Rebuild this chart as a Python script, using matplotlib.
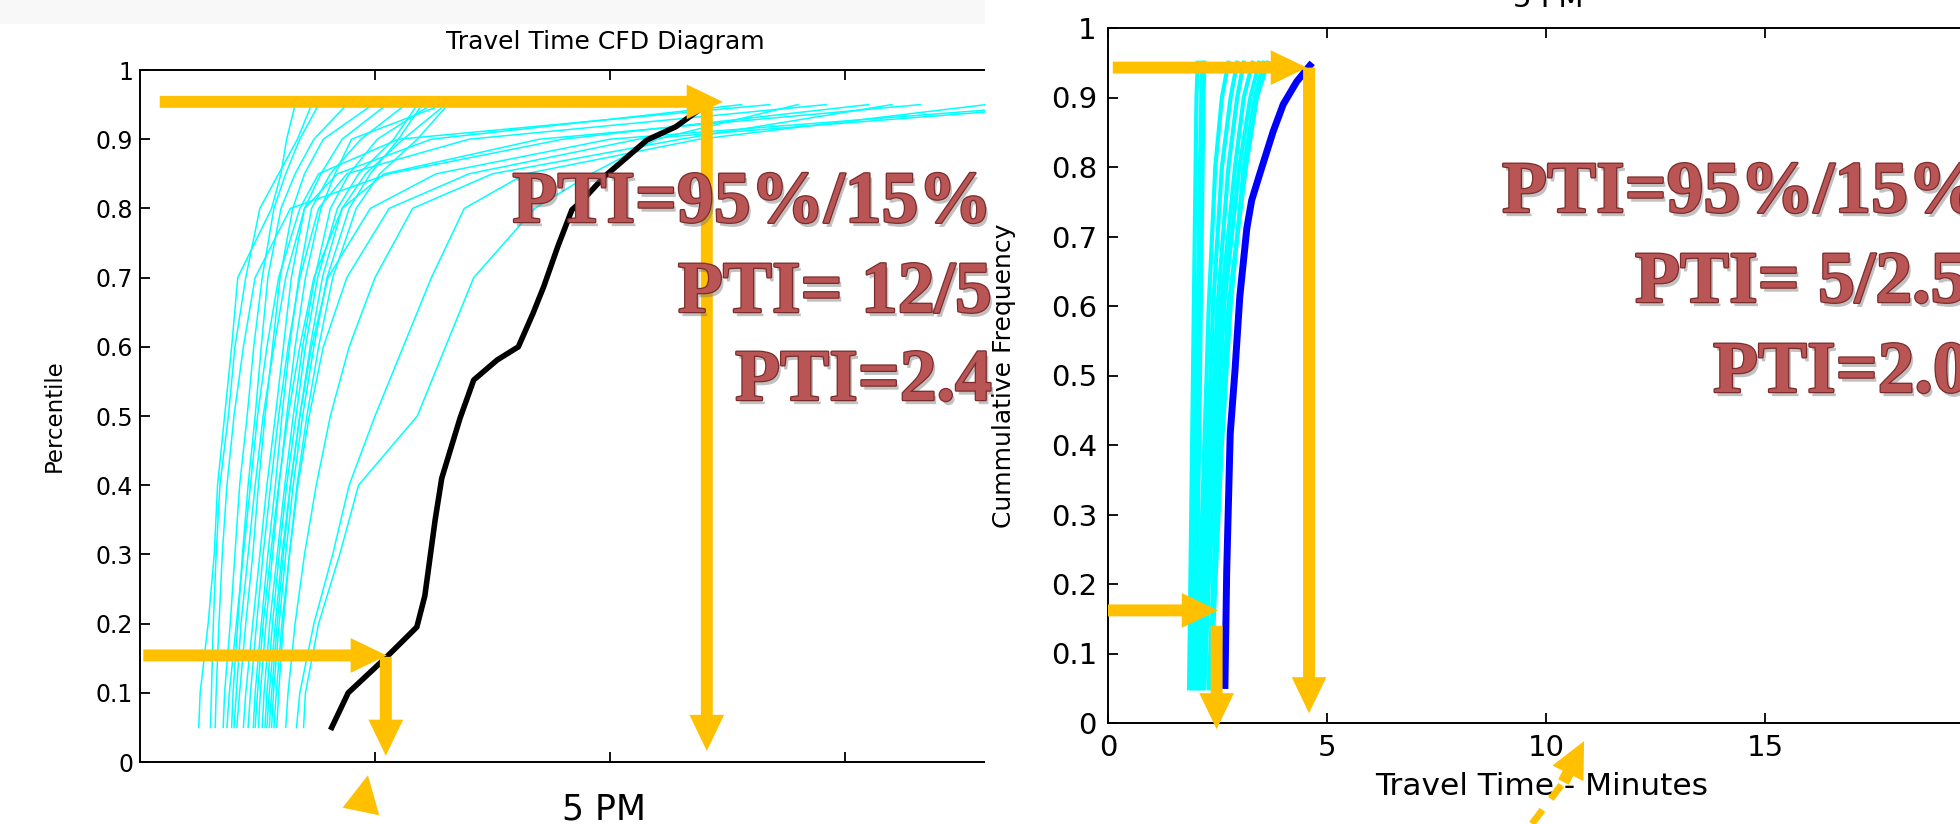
import numpy as np
import matplotlib
matplotlib.use("Agg")
import matplotlib.pyplot as plt
import matplotlib.patheffects as pe
from matplotlib.patches import Rectangle, Polygon

# ---- data ----
# left panel: cyan CDFs, x (minutes) at these percentiles
pct_left = [0.05, 0.1, 0.2, 0.3, 0.4, 0.5, 0.6, 0.7, 0.8, 0.85, 0.9, 0.95]
cyan_left = [
    [1.25, 1.28, 1.45, 1.58, 1.65, 1.80, 1.95, 2.08, 2.80, 3.00, 3.12, 3.30],
    [1.50, 1.52, 1.56, 1.62, 1.70, 1.88, 2.02, 2.25, 2.55, 2.95, 3.35, 3.65],
    [1.77, 1.80, 1.92, 2.02, 2.12, 2.28, 2.42, 2.60, 2.85, 3.10, 3.40, 3.80],
    [1.95, 1.98, 2.08, 2.18, 2.30, 2.45, 2.58, 2.72, 3.00, 3.30, 3.70, 4.40],
    [2.06, 2.12, 2.25, 2.40, 2.52, 2.66, 2.82, 2.98, 3.25, 3.50, 3.90, 4.95],
    [2.20, 2.25, 2.40, 2.55, 2.70, 2.88, 3.05, 3.22, 3.50, 3.85, 4.30, 5.25],
    [2.41, 2.45, 2.58, 2.72, 2.88, 3.02, 3.18, 3.38, 3.65, 4.05, 4.70, 5.65],
    [2.52, 2.56, 2.68, 2.82, 2.96, 3.12, 3.30, 3.52, 3.85, 4.15, 4.50, 6.45],
    [2.60, 2.64, 2.76, 2.92, 3.08, 3.26, 3.46, 3.72, 4.05, 4.45, 5.05, 6.20],
    [2.66, 2.70, 2.82, 2.96, 3.12, 3.32, 3.52, 3.78, 4.20, 4.65, 5.40, 5.90],
    [2.75, 2.80, 2.92, 3.05, 3.20, 3.40, 3.62, 3.88, 4.30, 4.80, 5.60, 6.50],
    [2.80, 2.84, 2.96, 3.10, 3.26, 3.46, 3.70, 3.98, 4.45, 4.90, 5.50, 6.00],
    [2.91, 2.95, 3.05, 3.18, 3.34, 3.55, 3.80, 4.10, 4.60, 5.10, 5.90, 6.55],
    [1.85, 1.90, 2.05, 2.20, 2.35, 2.50, 2.70, 2.95, 3.40, 3.80, 5.50, 13.4],
    [2.30, 2.35, 2.48, 2.62, 2.78, 2.95, 3.15, 3.40, 3.80, 4.40, 7.00, 14.6],
    [2.45, 2.50, 2.62, 2.78, 2.95, 3.15, 3.40, 3.70, 4.30, 5.20, 8.50, 16.6],
    [2.70, 2.75, 2.88, 3.02, 3.20, 3.40, 3.65, 4.00, 4.90, 6.30, 10.0, 19.5],
    [2.85, 2.90, 3.02, 3.18, 3.36, 3.60, 3.90, 4.40, 5.30, 7.00, 10.6, 20.0],
    [3.10, 3.15, 3.30, 3.50, 3.75, 4.05, 4.45, 5.00, 5.80, 7.50, 11.5, 16.0],
    [3.33, 3.40, 3.70, 4.10, 4.45, 5.00, 5.60, 6.20, 6.90, 8.20, 11.9, 18.0],
    [3.48, 3.52, 3.80, 4.25, 4.65, 5.90, 6.50, 7.10, 8.40, 9.60, 11.0, 14.0],
    [2.00, 2.05, 2.15, 2.30, 2.45, 2.62, 2.85, 3.10, 3.50, 4.20, 6.20, 12.8],
    [1.60, 1.62, 1.68, 1.75, 1.85, 2.00, 2.20, 2.45, 3.20, 5.30, 9.00, 15.5],
]
black_x = [4.08, 4.43, 5.25, 5.89, 6.06, 6.28, 6.42, 6.81, 7.10, 7.60,
           8.05, 8.36, 8.59, 8.89, 9.19, 9.42, 9.88, 10.79, 11.40, 11.95]
black_y = [0.05, 0.10, 0.152, 0.195, 0.24, 0.35, 0.41, 0.497, 0.552, 0.581,
           0.60, 0.648, 0.687, 0.745, 0.798, 0.812, 0.846, 0.899, 0.918, 0.945]

# right panel
pct_right = [0.05, 0.2, 0.4, 0.6, 0.8, 0.9, 0.95]
cyan_right = [
    [1.85, 1.88, 1.92, 1.96, 2.00, 2.02, 2.05],
    [1.90, 1.95, 2.00, 2.05, 2.10, 2.13, 2.15],
    [1.95, 2.02, 2.08, 2.12, 2.16, 2.18, 2.20],
    [2.00, 2.10, 2.20, 2.30, 2.45, 2.60, 2.75],
    [2.05, 2.15, 2.28, 2.40, 2.60, 2.80, 2.95],
    [2.10, 2.20, 2.35, 2.50, 2.75, 2.95, 3.10],
    [2.15, 2.25, 2.40, 2.58, 2.90, 3.10, 3.30],
    [2.20, 2.30, 2.48, 2.65, 3.00, 3.25, 3.45],
    [2.30, 2.40, 2.55, 2.75, 3.15, 3.40, 3.65],
    [2.35, 2.45, 2.60, 2.80, 3.10, 3.35, 3.55],
]
blue_x = [2.67, 2.71, 2.79, 2.90, 3.01, 3.17, 3.28, 3.47, 3.77, 4.00, 4.31, 4.61]
blue_y = [0.054, 0.218, 0.416, 0.508, 0.614, 0.712, 0.752, 0.791, 0.851, 0.89, 0.923, 0.946]

# orange arrows: (tail, tip) in data units
arrows_left = [((0.42, 0.954), (12.4, 0.954)),
               ((12.06, 0.954), (12.06, 0.016)),
               ((0.07, 0.154), (5.25, 0.154)),
               ((5.23, 0.152), (5.23, 0.009))]
arrows_right = [((0.11, 0.943), (4.54, 0.943)),
                ((4.59, 0.943), (4.59, 0.014)),
                ((0.0, 0.162), (2.51, 0.162)),
                ((2.48, 0.14), (2.48, -0.009))]
dashed_tail = (9.68, -0.145)
dashed_mid = (10.40, -0.085)
dashed_tip = (10.87, -0.026)
triangle_left = [(4.85, -0.019), (4.31, -0.066), (5.09, -0.077)]

pti_left = ["PTI=95%/15%", "PTI= 12/5", "PTI=2.4"]
pti_right = ["PTI=95%/15%", "PTI= 5/2.5", "PTI=2.0"]
ytick_vals = [0, 0.1, 0.2, 0.3, 0.4, 0.5, 0.6, 0.7, 0.8, 0.9, 1]
ytick_labels = ["0", "0.1", "0.2", "0.3", "0.4", "0.5", "0.6", "0.7", "0.8", "0.9", "1"]

ORANGE = "#FFC000"
W, H = 1960, 824

def fx(px):
    return px / W

def fy(py):
    return 1 - py / H

fig = plt.figure(figsize=(19.6, 8.24), dpi=100)
fig.patch.set_facecolor("white")
# faint slide background at the top-left
fig.add_artist(Rectangle((0, fy(24)), fx(985), 24 / H, transform=fig.transFigure,
                         facecolor="#F8F8F8", edgecolor="none", zorder=-1))

def arrow(ax, tail, tip):
    ax.annotate("", xy=tip, xytext=tail, annotation_clip=False, zorder=6,
                arrowprops=dict(arrowstyle="simple,head_length=1.3,head_width=1.25,tail_width=0.43",
                                mutation_scale=20, fc=ORANGE, ec="none",
                                shrinkA=0, shrinkB=0))

def style_axes(ax, labelsize, pad):
    ax.tick_params(direction="in", top=True, right=True, length=7, width=1.3,
                   labelsize=labelsize, pad=pad)
    for s in ax.spines.values():
        s.set_linewidth(1.4)

# ---- left panel ----
ax1 = fig.add_axes([fx(140), fy(762), 940 / W, 692 / H])
ax1.set_zorder(0)
for xs in cyan_left:
    ax1.plot(xs, pct_left, color="#00FFFF", lw=1.1)
ax1.plot(black_x, black_y, color="black", lw=4)
ax1.set_xlim(0, 20)
ax1.set_ylim(0, 1)
ax1.set_xticks([5, 10, 15])
ax1.set_xticklabels([])
ax1.set_yticks(ytick_vals)
ax1.set_yticklabels(ytick_labels)
style_axes(ax1, 17, 5)
ax1.set_ylabel("Percentile", fontsize=16.5)
ax1.yaxis.set_label_coords(-0.079, 0.5)
for tail, tip in arrows_left:
    arrow(ax1, tail, tip)
ax1.add_patch(Polygon(triangle_left, closed=True, facecolor=ORANGE, edgecolor="none",
                      clip_on=False, zorder=6))
fig.text(fx(605), fy(42), "Travel Time CFD Diagram", ha="center", va="center", fontsize=18)
fig.text(fx(604), fy(810), "5 PM", ha="center", va="center", fontsize=25)

# white cover where the second picture begins
fig.add_artist(Rectangle((fx(985), 0), 1 - fx(985), 1, transform=fig.transFigure,
                         facecolor="white", edgecolor="none", zorder=0.5))

# ---- right panel ----
ax2 = fig.add_axes([fx(1108), fy(723), 876 / W, 695 / H])
ax2.set_zorder(1)
for xs in cyan_right:
    ax2.plot(xs, pct_right, color="#00FFFF", lw=3)
ax2.plot(blue_x, blue_y, color="#0000FF", lw=5)
ax2.set_xlim(0, 20)
ax2.set_ylim(0, 1)
ax2.set_xticks([0, 5, 10, 15])
ax2.set_yticks(ytick_vals)
ax2.set_yticklabels(ytick_labels)
style_axes(ax2, 21, 8)
ax2.set_xlabel("Travel Time - Minutes", fontsize=22.5)
ax2.xaxis.set_label_coords(0.495, -0.07)
ax2.set_ylabel("Cummulative Frequency", fontsize=18)
ax2.yaxis.set_label_coords(-0.105, 0.5)
for tail, tip in arrows_right:
    arrow(ax2, tail, tip)
ax2.plot([dashed_tail[0], dashed_mid[0]], [dashed_tail[1], dashed_mid[1]],
         color=ORANGE, lw=5, ls=(0, (2.5, 2)), clip_on=False, zorder=6)
arrow(ax2, dashed_mid, dashed_tip)
fig.text(fx(1548), fy(7), "5 PM", ha="center", va="baseline", fontsize=21, zorder=3)

# ---- PTI annotations ----
effects = [pe.SimplePatchShadow(offset=(2, -3), shadow_rgbFace="#777777", alpha=0.45),
           pe.Stroke(linewidth=1.8, foreground="#7A2C2C"), pe.Normal()]
font = dict(family="Liberation Serif", fontweight="bold", fontsize=53,
            color="#B95555", path_effects=effects, zorder=10)
for s, y in zip(pti_left, [222, 312, 400]):
    fig.text(fx(992), fy(y), s, ha="right", va="baseline", **font)
for s, x, y in zip(pti_right, [1502, 1635, 1713], [212, 302, 392]):
    fig.text(fx(x), fy(y), s, ha="left", va="baseline", **font)

fig.savefig("out.png", dpi=100, facecolor="white")
